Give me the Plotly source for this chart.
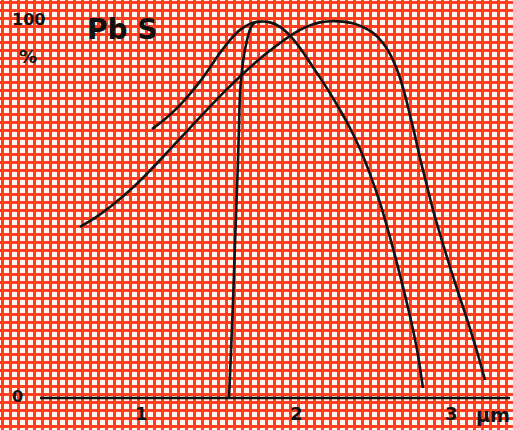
import plotly.graph_objects as go

# Relative spectral response of PbS (%) versus wavelength (μm)
curve_a_um = [1.071, 1.155, 1.232, 1.316, 1.381, 1.445, 1.510, 1.574, 1.639,
              1.703, 1.768, 1.832, 1.897, 1.961, 2.026, 2.090, 2.155, 2.219,
              2.284, 2.348, 2.413, 2.477, 2.542, 2.606, 2.671, 2.735, 2.781,
              2.819]
curve_a_pct = [71.5, 74.2, 77.1, 80.9, 84.2, 87.9, 91.8, 95.2, 97.9,
               99.5, 100.1, 99.9, 98.7, 96.4, 93.1, 89.2, 85.2, 81.1,
               76.6, 71.8, 66.2, 59.6, 51.9, 42.8, 32.7, 21.8, 12.8,
               2.7]

curve_b_um = [0.606, 0.703, 0.800, 0.897, 0.974, 1.058, 1.123, 1.219, 1.297,
              1.381, 1.445, 1.542, 1.639, 1.735, 1.832, 1.897, 1.961, 2.026,
              2.090, 2.155, 2.219, 2.303, 2.381, 2.458, 2.510, 2.561, 2.606,
              2.645, 2.671, 2.703, 2.735, 2.768, 2.800, 2.845, 2.884, 2.942,
              2.994, 3.045, 3.103, 3.161, 3.219]
curve_b_pct = [45.5, 47.9, 50.8, 54.1, 57.0, 60.5, 63.3, 67.6, 71.0,
               74.7, 77.5, 81.6, 85.5, 89.1, 92.4, 94.4, 96.3, 97.9,
               99.1, 99.9, 100.2, 100.1, 99.5, 98.1, 96.7, 94.4, 91.5,
               88.0, 85.1, 80.6, 75.3, 69.7, 63.8, 56.4, 50.0, 41.8,
               34.8, 28.2, 21.0, 13.3, 4.8]

curve_c_um = [1.568, 1.581, 1.594, 1.606, 1.619, 1.626, 1.632, 1.639, 1.658,
              1.684, 1.710, 1.735]
curve_c_pct = [0.0, 12.8, 26.1, 40.7, 55.3, 63.3, 71.8, 81.1, 89.4,
               95.2, 98.7, 99.9]

x_tick_vals = [1, 2, 3]
x_tick_text = ["1", "2", "3"]

# axis extents (μm / %)
X_MIN, X_MAX = 0.0903, 3.40
Y_MIN, Y_MAX = -8.51, 105.85
AXIS_START, AXIS_END = 0.348, 3.381

GRID = "#ff4020"
INK = "#111111"
FONT = "DejaVu Sans"

fig = go.Figure()
for xs, ys in [(curve_a_um, curve_a_pct), (curve_b_um, curve_b_pct),
               (curve_c_um, curve_c_pct)]:
    fig.add_trace(go.Scatter(x=xs, y=ys, mode="lines",
                             line=dict(color=INK, width=2.6, shape="spline",
                                       smoothing=0.8),
                             hoverinfo="skip", showlegend=False))

# wavelength axis line
fig.add_shape(type="line", x0=AXIS_START, x1=AXIS_END, y0=0, y1=0,
              line=dict(color=INK, width=2.6))


def label(x, y, text, size):
    return dict(x=x, y=y, text=f"<b>{text}</b>", showarrow=False,
                font=dict(family=FONT, size=size, color=INK))


annotations = [label(v, -4.2, t, 18) for v, t in zip(x_tick_vals, x_tick_text)]
annotations += [
    label(3.271, -4.6, "μm", 19),
    label(0.206, 0.4, "0", 16),
    label(0.271, 100.6, "100", 16),
    label(0.271, 90.7, "%", 18),
    label(0.877, 97.9, "Pb S", 28),
]

fig.update_layout(
    width=513, height=430, autosize=False,
    margin=dict(l=0, r=0, t=0, b=0),
    paper_bgcolor="#fff8f2", plot_bgcolor="#fff8f2",
    annotations=annotations,
    xaxis=dict(range=[X_MIN, X_MAX], tickmode="linear",
               tick0=0.10323, dtick=8 / 155, showgrid=True,
               gridcolor=GRID, gridwidth=2.7, showticklabels=False,
               zeroline=False, showline=False, ticks=""),
    yaxis=dict(range=[Y_MIN, Y_MAX], tickmode="linear",
               tick0=-1.0638, dtick=8 / 3.76, showgrid=True,
               gridcolor=GRID, gridwidth=2.7, showticklabels=False,
               zeroline=False, showline=False, ticks=""),
)

fig.write_html("out.html")
